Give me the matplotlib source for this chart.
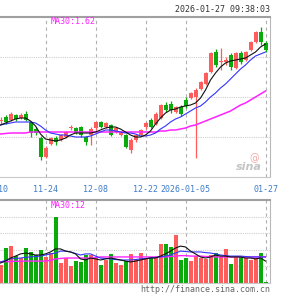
import numpy as np
import matplotlib.pyplot as plt

tick_pos = [-1, 9, 19, 29, 37, 53]
tick_labels = ['11-10', '11-24', '12-08', '12-22', '2026-01-05', '01-27']

opens = [1.496, 1.512, 1.50, 1.52, 1.508, 1.524, 1.492, 1.464, 1.428, 1.352,
         1.404, 1.428, 1.42, 1.432, 1.468, 1.468, 1.472, 1.432, 1.44, 1.468,
         1.492, 1.472, 1.48, 1.452, 1.44, 1.44, 1.38, 1.42, 1.44, 1.472,
         1.50, 1.484, 1.508, 1.56, 1.564, 1.532, 1.552, 1.58, 1.588, 1.592,
         1.624, 1.644, 1.692, 1.772, 1.732, 1.732, 1.76, 1.708, 1.768, 1.74,
         1.78, 1.812, 1.852, 1.808]
closes = [1.50, 1.492, 1.524, 1.504, 1.52, 1.50, 1.448, 1.448, 1.352, 1.388,
          1.428, 1.412, 1.44, 1.452, 1.472, 1.448, 1.44, 1.412, 1.464, 1.492,
          1.472, 1.488, 1.44, 1.468, 1.452, 1.392, 1.42, 1.44, 1.46, 1.488,
          1.472, 1.524, 1.56, 1.54, 1.54, 1.552, 1.524, 1.556, 1.608, 1.62,
          1.652, 1.688, 1.768, 1.72, 1.736, 1.74, 1.712, 1.768, 1.732, 1.772,
          1.812, 1.852, 1.812, 1.78]
highs = [1.512, 1.52, 1.532, 1.524, 1.528, 1.536, 1.496, 1.472, 1.436, 1.396,
         1.432, 1.436, 1.444, 1.456, 1.48, 1.472, 1.476, 1.436, 1.472, 1.496,
         1.496, 1.492, 1.484, 1.472, 1.456, 1.444, 1.428, 1.444, 1.464, 1.492,
         1.508, 1.532, 1.564, 1.572, 1.576, 1.556, 1.56, 1.592, 1.612, 1.628,
         1.656, 1.692, 1.772, 1.784, 1.788, 1.752, 1.768, 1.772, 1.776, 1.776,
         1.816, 1.856, 1.872, 1.816]
lows = [1.484, 1.484, 1.496, 1.496, 1.504, 1.496, 1.432, 1.44, 1.34, 1.348,
        1.40, 1.40, 1.416, 1.428, 1.46, 1.444, 1.432, 1.40, 1.40, 1.46,
        1.468, 1.468, 1.436, 1.448, 1.436, 1.388, 1.368, 1.412, 1.436, 1.464,
        1.468, 1.48, 1.504, 1.532, 1.528, 1.528, 1.516, 1.548, 1.584, 1.348,
        1.62, 1.64, 1.688, 1.712, 1.70, 1.72, 1.70, 1.704, 1.724, 1.736,
        1.776, 1.808, 1.80, 1.772]
volumes = [8.3, 16.1, 17.0, 12.4, 11.5, 16.1, 14.3, 12.9, 15.2, 12.0,
           13.8, 30.4, 9.2, 11.5, 7.8, 10.1, 9.7, 12.9, 12.9, 12.0,
           8.3, 10.6, 13.4, 9.2, 8.3, 10.1, 13.4, 11.1, 13.8, 11.5,
           12.0, 11.5, 18.0, 18.0, 16.6, 22.1, 10.6, 11.5, 10.1, 12.4,
           11.5, 11.1, 12.9, 13.8, 12.0, 15.7, 8.8, 12.0, 12.0, 11.5,
           10.6, 11.5, 13.8, 0.5]

ma5 = [1.48, 1.488, 1.496, 1.504, 1.508, 1.508, 1.496, 1.476, 1.444, 1.424,
       1.42, 1.416, 1.42, 1.428, 1.44, 1.448, 1.448, 1.448, 1.448, 1.452,
       1.46, 1.468, 1.472, 1.472, 1.464, 1.452, 1.44, 1.432, 1.432, 1.44,
       1.456, 1.484, 1.508, 1.528, 1.54, 1.544, 1.552, 1.556, 1.56, 1.568,
       1.588, 1.62, 1.66, 1.688, 1.712, 1.728, 1.736, 1.74, 1.744, 1.748,
       1.76, 1.772, 1.792, 1.804]
ma10 = [1.48, 1.484, 1.488, 1.492, 1.492, 1.492, 1.492, 1.488, 1.476, 1.46,
        1.448, 1.444, 1.44, 1.44, 1.436, 1.432, 1.432, 1.432, 1.436, 1.444,
        1.452, 1.46, 1.46, 1.456, 1.452, 1.448, 1.448, 1.444, 1.436, 1.436,
        1.44, 1.448, 1.464, 1.476, 1.492, 1.504, 1.512, 1.524, 1.536, 1.548,
        1.556, 1.572, 1.592, 1.608, 1.628, 1.644, 1.664, 1.684, 1.704, 1.72,
        1.74, 1.756, 1.764, 1.772]
ma30 = [1.444, 1.446, 1.448, 1.448, 1.448, 1.448, 1.452, 1.452, 1.452, 1.452,
        1.452, 1.452, 1.452, 1.452, 1.452, 1.452, 1.452, 1.452, 1.452, 1.452,
        1.452, 1.452, 1.452, 1.452, 1.452, 1.452, 1.452, 1.452, 1.452, 1.452,
        1.452, 1.452, 1.456, 1.456, 1.46, 1.46, 1.464, 1.468, 1.476, 1.48,
        1.488, 1.496, 1.504, 1.512, 1.52, 1.528, 1.536, 1.548, 1.56, 1.568,
        1.58, 1.592, 1.604, 1.616]

vol_ma5 = [9.2, 10.1, 11.5, 12.4, 13.4, 13.8, 13.4, 12.9, 12.9, 13.4,
           14.3, 15.7, 15.7, 14.7, 14.3, 13.4, 11.1, 10.6, 11.5, 11.1,
           10.6, 11.1, 11.5, 11.1, 10.6, 10.1, 9.7, 10.1, 10.6, 11.1,
           11.5, 11.5, 12.4, 13.4, 14.7, 16.1, 17.0, 16.6, 14.7, 13.4,
           12.0, 11.5, 12.0, 12.9, 12.4, 12.4, 12.0, 12.0, 12.0, 11.5,
           11.5, 11.1, 11.5, 10.1]
vol_ma10 = [9.7, 10.4, 11.1, 11.3, 11.5, 11.8, 12.0, 12.2, 12.4, 12.9,
            13.4, 13.8, 14.7, 14.7, 14.3, 13.6, 12.9, 13.4, 13.4, 12.4,
            11.5, 11.3, 11.1, 10.8, 10.6, 10.6, 10.6, 10.8, 11.1, 11.3,
            11.5, 11.8, 12.0, 12.4, 12.9, 13.8, 14.7, 14.5, 14.3, 14.3,
            14.3, 14.0, 13.8, 13.4, 12.9, 12.6, 12.4, 12.4, 12.4, 12.2,
            12.0, 12.0, 12.0, 12.0]
vol_ma30 = [9.7, 9.8, 9.9, 10.0, 10.0, 10.1, 10.1, 10.1, 10.1, 10.1,
            10.4, 11.1, 11.3, 11.5, 11.5, 11.5, 11.5, 11.5, 11.5, 11.7,
            12.0, 12.0, 12.0, 12.0, 12.0, 12.0, 12.0, 12.0, 12.0, 12.0,
            12.0, 12.0, 12.0, 12.0, 12.2, 12.4, 12.6, 12.6, 12.4, 12.4,
            12.4, 12.2, 12.2, 12.0, 12.0, 12.0, 12.0, 12.0, 12.0, 12.0,
            12.0, 12.0, 12.0, 12.0]

RED = '#ff5c5c'
GREEN = '#0aaa0a'
MONO = 'DejaVu Sans Mono'

idx = np.arange(len(opens))
o = np.array(opens)
c = np.array(closes)
up = c >= o
colors = [RED if u else GREEN for u in up]

fig = plt.figure(figsize=(3, 3), dpi=100)
ax = fig.add_axes([0, 0.41, 0.9, 0.5333])
ax2 = fig.add_axes([0, 0.0567, 0.9, 0.2767])

xmin, xmax = -0.1, 53.9
for a in (ax, ax2):
    a.set_xlim(xmin, xmax)
    a.set_xticks([])
    a.set_yticks([])
    a.spines['left'].set_visible(False)
    a.spines['top'].set_color('#a0a0a0')
    a.spines['top'].set_linewidth(1.5)
    a.spines['right'].set_color('#b8b8b8')
    a.spines['bottom'].set_color('#c8c8c8')
    for p in tick_pos[1:]:
        a.axvline(p, color='#b0b0b0', lw=0.8, ls=(0, (3, 3)), zorder=0)

# price panel
ax.set_ylim(1.272, 1.912)
for g in [1.752, 1.592, 1.432]:
    ax.axhline(g, color='#cfcfcf', lw=0.8, ls=(0, (1, 1)), zorder=0)

ax.vlines(idx, lows, highs, colors=colors, lw=0.9, zorder=2)
body = np.maximum(np.abs(c - o), 0.003)
ax.bar(idx, body, bottom=np.minimum(o, c), width=0.8, color=colors, zorder=3)

ax.plot(idx, ma30, color='#ff22ff', lw=1.1, zorder=4)
ax.plot(idx, ma10, color='#3333ff', lw=0.8, zorder=4)
ax.plot(idx, ma5, color='#111111', lw=0.8, zorder=5)

# volume panel
ax2.set_ylim(0, 38.25)
for g in [7.65, 15.3, 22.95, 30.6]:
    ax2.axhline(g, color='#cfcfcf', lw=0.8, ls=(0, (1, 1)), zorder=0)
ax2.bar(idx, volumes, width=0.8, color=colors, zorder=2)
ax2.plot(idx, vol_ma30, color='#ff22ff', lw=1.0, zorder=4)
ax2.plot(idx, vol_ma10, color='#3333ff', lw=0.8, zorder=4)
ax2.plot(idx, vol_ma5, color='#111111', lw=0.8, zorder=5)

# date labels
for p, lab in zip(tick_pos, tick_labels):
    ax.text(p, -0.05, lab, transform=ax.get_xaxis_transform(), ha='center', va='top',
            fontsize=6, family=MONO, color='#3d7cc9', clip_on=False)

fig.text(0.9, 1 - 10 / 300, '2026-01-27 09:38:03', ha='right', va='center',
         fontsize=6, family=MONO, color='#333333')
fig.text(51 / 300, 1 - 22 / 300, 'MA30:1.62', ha='left', va='center',
         fontsize=6, family=MONO, color='#ff22ff')
fig.text(51 / 300, 1 - 205 / 300, 'MA30:12', ha='left', va='center',
         fontsize=6, family=MONO, color='#ff22ff')
fig.text(0.9, 1 - 290 / 300, 'http://finance.sina.com.cn', ha='right', va='center',
         fontsize=6, family=MONO, color='#666666')

# sina watermark
fig.text(262 / 300, 1 - 167 / 300, 'sina', ha='right', va='center', fontsize=8,
         style='italic', weight='bold', color='#c4c4c4')
fig.text(254 / 300, 1 - 158 / 300, '@', ha='center', va='center', fontsize=7,
         color='#f2a8a8')

fig.savefig('out.png', dpi=100)
